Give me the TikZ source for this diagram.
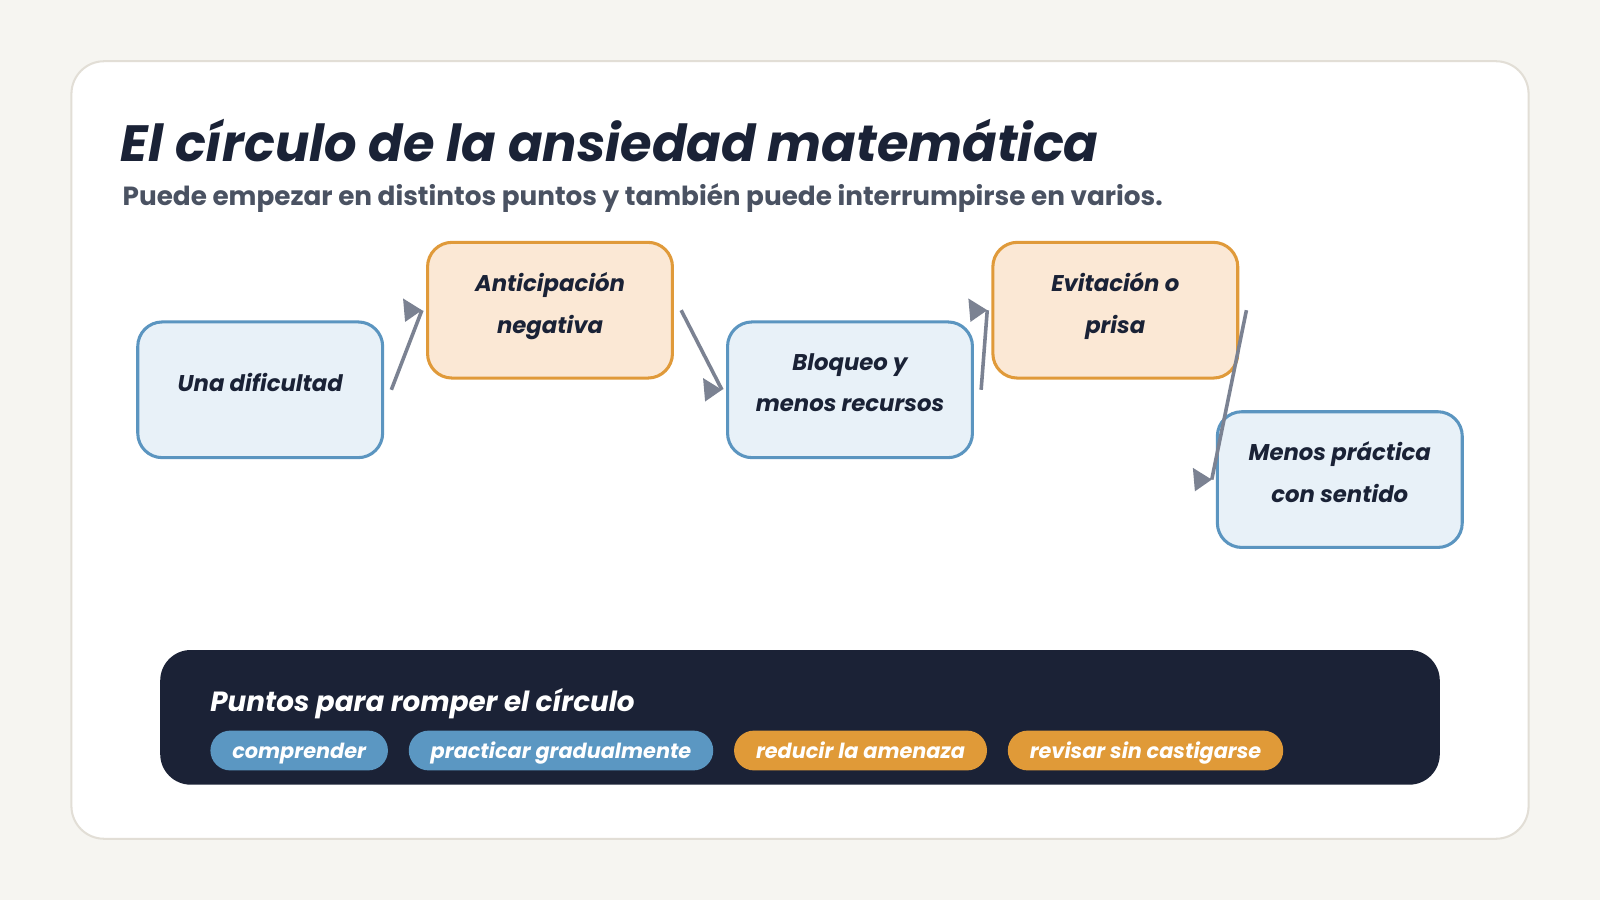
\documentclass[tikz,border=0pt]{standalone}
\usepackage{fontspec}
\setmainfont{Poppins}
\usepackage{xcolor}
\usetikzlibrary{arrows.meta}
\usetikzlibrary{positioning}

\definecolor{pagebg}{HTML}{F6F5F1}
\definecolor{cardline}{HTML}{E2DED6}
\definecolor{ink}{HTML}{1A2236}
\definecolor{subgray}{HTML}{4A5262}
\definecolor{blueline}{HTML}{5B95C0}
\definecolor{bluefill}{HTML}{E8F1F8}
\definecolor{orangeline}{HTML}{E09A3A}
\definecolor{orangefill}{HTML}{FBE8D5}
\definecolor{arrowgray}{HTML}{7B8292}
\definecolor{panel}{HTML}{1B2236}
\definecolor{pillblue}{HTML}{5B97C2}
\definecolor{pillorange}{HTML}{E09A38}

\begin{document}
\begin{tikzpicture}[x=1pt,y=-1pt,
  box/.style={draw, line width=3pt, rounded corners=24pt, minimum width=240pt,
    minimum height=133pt, align=center, text=ink, text depth=14pt,
    font=\fontsize{22.3}{41}\selectfont\bfseries\itshape},
  bluebox/.style={box, draw=blueline, fill=bluefill},
  orangebox/.style={box, draw=orangeline, fill=orangefill},
  flow/.style={line width=3.5pt, draw=arrowgray},
  pill/.style={rounded corners=19.5pt, minimum height=39pt, inner xsep=21.5pt,
    inner ysep=0pt, text height=18pt, text depth=2pt, text=white,
    font=\fontsize{20.4}{24}\selectfont\bfseries\itshape},
  bluepill/.style={pill, fill=pillblue},
  orangepill/.style={pill, fill=pillorange}
]

% Draw page and card
\useasboundingbox (0,0) rectangle (1568,882);
\fill[pagebg] (0,0) rectangle (1568,882);
\filldraw[fill=white, draw=cardline, line width=2pt, rounded corners=32pt] (70,60) rectangle (1498,822);

% Title and subtitle
\node[anchor=base west, inner sep=0pt, text=ink, font=\fontsize{50}{56}\selectfont\bfseries\itshape] (title) at (118,158) {El círculo de la ansiedad matemática};
\node[anchor=base west, inner sep=0pt, text=subgray, font=\fontsize{25.75}{30}\selectfont\bfseries] (subtitle) at (120,201) {Puede empezar en distintos puntos y también puede interrumpirse en varios.};

% Steps of the circle
\node[bluebox]   (dificultad)   at (255,382)  {Una dificultad};
\node[orangebox] (anticipacion) at (539,304)  {Anticipación\\negativa};
\node[bluebox]   (bloqueo)      at (833,382)  {Bloqueo y\\menos recursos};
\node[orangebox] (evitacion)    at (1093,304) {Evitación o\\prisa};
\node[bluebox]   (practica)     at (1313,470) {Menos práctica\\con sentido};

% Connectors: the heads all point to the right
\foreach \from/\to in {dificultad/anticipacion, anticipacion/bloqueo, bloqueo/evitacion, evitacion/practica} {
  \draw[flow] ([xshift=7pt]\from.east) -- ([xshift=-4pt]\to.west) coordinate (tip);
  \fill[arrowgray] (tip) -- ++(-18.5,-11.5) -- ++(2,23) -- cycle;
}

% Panel at the bottom
\fill[panel, rounded corners=30pt] (157,637) rectangle (1411,769);
\node[anchor=base west, inner sep=0pt, text=white, font=\fontsize{27.2}{32}\selectfont\bfseries\itshape] (romper) at (206,697) {Puntos para romper el círculo};

\node[bluepill, anchor=west] (comprender) at (206,735.5) {comprender};
\node[bluepill, right=20pt of comprender] (practicar) {practicar gradualmente};
\node[orangepill, right=20pt of practicar] (reducir) {reducir la amenaza};
\node[orangepill, right=20pt of reducir] (revisar) {revisar sin castigarse};

\end{tikzpicture}
\end{document}
